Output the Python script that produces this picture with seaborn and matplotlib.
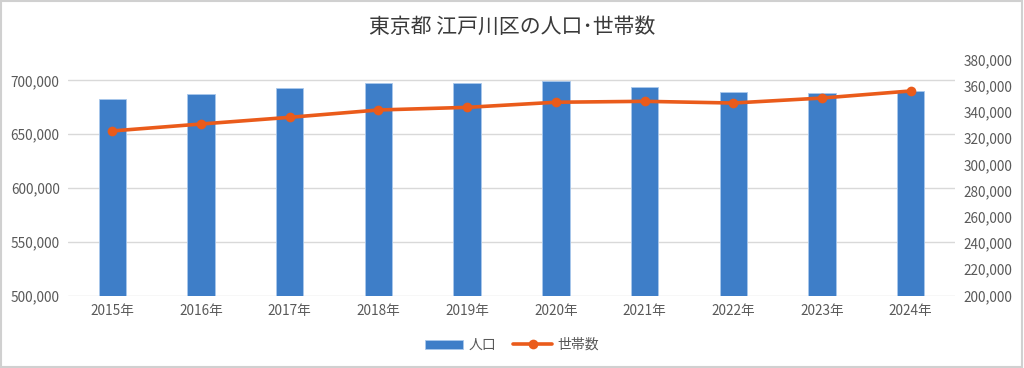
import matplotlib.pyplot as plt
import pandas as pd
import seaborn as sns
from matplotlib.ticker import FuncFormatter
from matplotlib.patches import Rectangle

years = ["2015年", "2016年", "2017年", "2018年", "2019年",
         "2020年", "2021年", "2022年", "2023年", "2024年"]
population = [682500, 687400, 692700, 697700, 697700,
              699800, 694200, 689000, 688000, 690200]
households = [325500, 330800, 335900, 341500, 343500,
              347400, 348100, 346800, 350600, 356000]

BAR_COLOR = "#3E7EC8"
LINE_COLOR = "#EA5B1B"
TEXT_COLOR = "#595959"

sns.set_theme(style="white")
plt.rcParams["font.family"] = ["Noto Sans CJK JP", "DejaVu Sans"]

df = pd.DataFrame({"year": years, "population": population, "households": households})

fig = plt.figure(figsize=(10.24, 3.68), dpi=100)
ax = fig.add_axes([68 / 1024, 1 - 295.5 / 368, 887 / 1024, 236 / 368])

# bars: population on the left axis
sns.barplot(data=df, x="year", y="population", color=BAR_COLOR, width=0.31,
            saturation=1, edgecolor="#A9C8EC", linewidth=0.6, ax=ax, label="人口", zorder=2)
ax.set_xlim(-0.5, 9.5)
ax.set_ylim(500000, 719500)
ax.set_yticks([500000, 550000, 600000, 650000, 700000])
ax.yaxis.set_major_formatter(FuncFormatter(lambda v, p: f"{int(v):,}"))
ax.grid(axis="y", color="#D9D9D9", linewidth=1, zorder=0)
ax.set_axisbelow(True)
ax.set_xlabel("")
ax.set_ylabel("")
for s in ax.spines.values():
    s.set_visible(False)
ax.tick_params(axis="both", length=0, labelsize=9.8, colors=TEXT_COLOR, pad=6)

# line: households on the right axis
ax2 = ax.twinx()
sns.lineplot(data=df, x="year", y="households", color=LINE_COLOR, linewidth=2.6,
             marker="o", markersize=7, markeredgewidth=0, ax=ax2, label="世帯数", zorder=3)
ax2.set_ylim(200000, 380000)
ax2.set_yticks(range(200000, 380001, 20000))
ax2.yaxis.set_major_formatter(FuncFormatter(lambda v, p: f"{int(v):,}"))
ax2.set_ylabel("")
for s in ax2.spines.values():
    s.set_visible(False)
ax2.tick_params(axis="y", length=0, labelsize=9.8, colors=TEXT_COLOR, pad=6)
ax2.grid(False)

h1, l1 = ax.get_legend_handles_labels()
h2, l2 = ax2.get_legend_handles_labels()
for a in (ax, ax2):
    if a.get_legend():
        a.get_legend().remove()
fig.legend(h1 + h2, l1 + l2, loc="center", bbox_to_anchor=(0.5, 1 - 345 / 368),
           ncol=2, frameon=False, fontsize=10, labelcolor=TEXT_COLOR,
           handlelength=2.8, handleheight=0.6, columnspacing=1.2, handletextpad=0.4)

fig.text(0.5, 1 - 27 / 368, "東京都 江戸川区の人口･世帯数", ha="center", va="center",
         fontsize=15, color="#3A3A3A")

fig.patches.append(Rectangle((0.001, 0.002), 0.997, 0.995, transform=fig.transFigure,
                             fill=False, edgecolor="#D0D0D0", linewidth=1.5))

fig.savefig("out.png", dpi=100)
